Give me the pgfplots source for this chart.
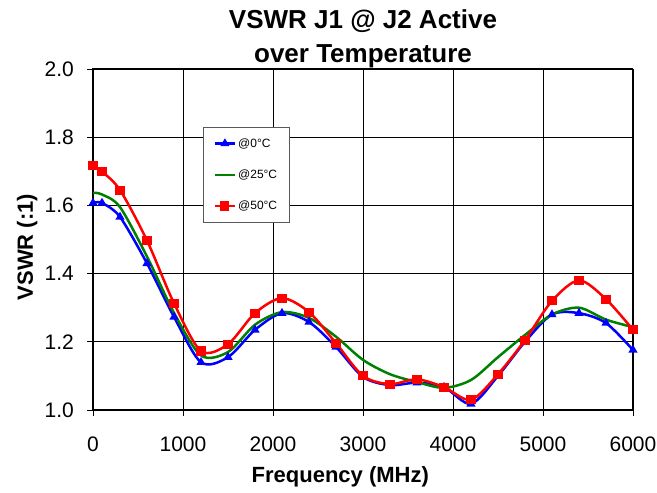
\documentclass[border=0pt]{standalone}
\usepackage{pgfplots}
\pgfplotsset{compat=1.18}
\usepackage{fontspec}
\setmainfont{Liberation Sans}
\definecolor{cblue}{RGB}{0,0,255}
\definecolor{cgreen}{RGB}{0,128,0}
\definecolor{cred}{RGB}{255,0,0}
\begin{document}
\begin{tikzpicture}
\useasboundingbox (-93pt,-83pt) rectangle (564pt,410pt);
\begin{axis}[
  scale only axis,
  width=540pt, height=341pt,
  xmin=0, xmax=6000, ymin=1.0, ymax=2.0,
  xtick={0,1000,...,6000}, ytick={1.0,1.2,...,2.0},
  tick pos=left,
  yticklabel style={/pgf/number format/fixed,/pgf/number format/fixed zerofill,/pgf/number format/precision=1, inner sep=0pt, xshift=-13pt},
  xticklabel style={/pgf/number format/1000 sep={}, inner sep=0pt, yshift=-21pt},
  /pgf/number format/assume math mode=true,
  ticklabel style={font=\fontsize{21}{24}\selectfont},
  tick align=outside, major tick length=6pt,
  tick style={black, line width=0.9pt},
  grid=major, major grid style={black, line width=0.9pt},
  axis line style={black, line width=1pt},
  clip=false,
  legend style={at={(rel axis cs:0.204,0.83)}, anchor=north west, draw=black!65, line width=1pt,
    font=\fontsize{12}{14}\selectfont, row sep=17pt, inner xsep=10pt, inner ysep=9pt},
  legend image code/.code={\draw[#1, line width=2.5pt] (0pt,0pt) -- (20pt,0pt); \draw[#1, only marks] plot coordinates {(10pt,0pt)};},
  legend cell align=left,
]
\addplot[cblue, line width=2.5pt, smooth, tension=0.5, mark=triangle*, mark size=2.8pt, mark options={solid}] coordinates {
(0,1.607) (100,1.607) (300,1.566) (600,1.43) (900,1.273) (1200,1.14) (1500,1.155) (1800,1.235) (2100,1.284) (2400,1.258) (2700,1.185) (3000,1.097) (3300,1.073) (3600,1.08) (3900,1.067) (4200,1.018) (4500,1.10) (4800,1.20) (5100,1.28) (5400,1.284) (5700,1.255) (6000,1.176)};
\addlegendentry{@0°C}
\addplot[cgreen, line width=2.5pt, smooth, tension=0.5] coordinates {
(0,1.637) (100,1.632) (300,1.595) (600,1.45) (900,1.285) (1200,1.16) (1500,1.17) (1800,1.25) (2100,1.287) (2400,1.27) (2700,1.215) (3000,1.147) (3300,1.105) (3600,1.082) (3900,1.065) (4200,1.088) (4500,1.155) (4800,1.22) (5100,1.28) (5400,1.30) (5700,1.265) (6000,1.243)};
\addlegendentry{@25°C}
\addplot[cred, line width=2.5pt, smooth, tension=0.5, mark=square*, mark size=3.3pt, mark options={solid}] coordinates {
(0,1.717) (100,1.699) (300,1.645) (600,1.497) (900,1.313) (1200,1.173) (1500,1.193) (1800,1.284) (2100,1.328) (2400,1.287) (2700,1.196) (3000,1.10) (3300,1.076) (3600,1.09) (3900,1.067) (4200,1.03) (4500,1.105) (4800,1.205) (5100,1.32) (5400,1.38) (5700,1.325) (6000,1.235)};
\addlegendentry{@50°C}
\node[anchor=base, font=\fontsize{26}{30}\selectfont\bfseries] at ([yshift=40pt]rel axis cs:0.5,1) {VSWR J1 @ J2 Active};
\node[anchor=base, font=\fontsize{26}{30}\selectfont\bfseries] at ([yshift=6pt]rel axis cs:0.5,1) {over Temperature};
\node[anchor=base, font=\fontsize{22}{26}\selectfont\bfseries] at ([yshift=-72pt]rel axis cs:0.458,0) {Frequency (MHz)};
\node[anchor=base, rotate=90, font=\fontsize{22}{26}\selectfont\bfseries] at ([xshift=-60pt]rel axis cs:0,0.478) {VSWR (:1)};
\end{axis}
\end{tikzpicture}
\end{document}
